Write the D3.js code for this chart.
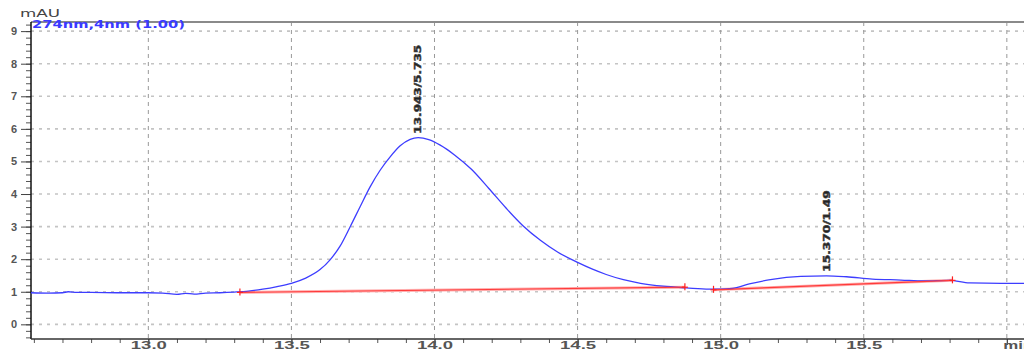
<!DOCTYPE html>
<html>
<head>
<meta charset="utf-8">
<script src="https://cdn.jsdelivr.net/npm/d3@7"></script>
<style>
  body { margin: 0; background: #fff; }
  svg { display: block; font-family: "DejaVu Sans", sans-serif; }
</style>
</head>
<body>
<div id="chrom"></div>
<script>
// retention time (min) and detector signal (mAU)
const times = [12.59, 12.65, 12.70, 12.72, 12.75, 12.80, 12.90, 13.00, 13.05, 13.10, 13.13, 13.16, 13.20, 13.25,
  13.30, 13.35, 13.40, 13.45, 13.50, 13.55, 13.60, 13.635, 13.67, 13.705, 13.74, 13.775, 13.81, 13.845, 13.88,
  13.915, 13.943, 13.98, 14.02, 14.07, 14.13, 14.19, 14.25, 14.31, 14.37, 14.43, 14.50, 14.55, 14.60,
  14.66, 14.72, 14.80, 14.88, 14.96, 15.00, 15.04, 15.10, 15.18, 15.28, 15.37, 15.44, 15.53, 15.63, 15.71,
  15.80, 15.87, 15.98, 16.06];
const absorbance = [0.97, 0.96, 0.97, 1.00, 0.98, 0.98, 0.97, 0.97, 0.96, 0.92, 0.95, 0.93, 0.96, 0.97,
  0.99, 1.02, 1.08, 1.16, 1.26, 1.42, 1.68, 1.98, 2.40, 2.99, 3.61, 4.22, 4.73, 5.14, 5.48,
  5.68, 5.73, 5.67, 5.50, 5.20, 4.75, 4.17, 3.57, 3.02, 2.58, 2.22, 1.90, 1.70, 1.53,
  1.37, 1.26, 1.17, 1.12, 1.08, 1.08, 1.10, 1.24, 1.38, 1.47, 1.49, 1.46, 1.39, 1.36, 1.33,
  1.35, 1.27, 1.26, 1.26];

// integration baselines: start/end time and level
const baseStart = [13.32, 14.975];
const baseStartLevel = [0.98, 1.06];
const baseEnd = [14.875, 15.81];
const baseEndLevel = [1.14, 1.35];

// peak annotations
const peakTimes = [13.943, 15.37];
const peakHeights = [5.73, 1.49];
const peakLabels = ["13.943/5.735", "15.370/1.49"];

const yTicks = [0, 1, 2, 3, 4, 5, 6, 7, 8, 9];
const xTicks = [13.0, 13.5, 14.0, 14.5, 15.0, 15.5, 16.0];
const xTickLabels = ["13.0", "13.5", "14.0", "14.5", "15.0", "15.5", "min"];

const width = 1024, height = 352;
const plotLeft = 31, plotTop = 22, plotBottom = 339;

const svg = d3.select('#chrom').append('svg')
  .attr('width', width)
  .attr('height', height);

const x = d3.scaleLinear().domain([12.59, 16.06]).range([plotLeft, width]);
const y = d3.scaleLinear().domain([-0.45, 9.28]).range([plotBottom, plotTop]);

// grid
svg.append('g')
  .selectAll('line')
  .data(yTicks)
  .enter()
  .append('line')
  .attr('x1', plotLeft).attr('x2', width)
  .attr('y1', d => y(d)).attr('y2', d => y(d))
  .style('stroke', '#c4c4c4')
  .style('stroke-width', 1.6)
  .style('stroke-dasharray', '3,5');

svg.append('g')
  .selectAll('line')
  .data(xTicks)
  .enter()
  .append('line')
  .attr('x1', d => x(d)).attr('x2', d => x(d))
  .attr('y1', plotTop).attr('y2', plotBottom)
  .style('stroke', '#999')
  .style('stroke-width', 1)
  .style('stroke-dasharray', '4,4');

// frame top
svg.append('line')
  .attr('x1', plotLeft).attr('x2', width)
  .attr('y1', plotTop).attr('y2', plotTop)
  .style('stroke', '#8a8a8a')
  .style('stroke-width', 2);

// y axis
svg.append('g')
  .attr('transform', 'translate(' + plotLeft + ',0)')
  .call(d3.axisLeft(y).tickValues(d3.range(-4, 93, 2).map(d => d / 10)).tickSize(5).tickFormat(''))
  .call(g => g.select('.domain').remove())
  .selectAll('line').style('stroke', '#555');

const yAxis = svg.append('g')
  .attr('transform', 'translate(' + plotLeft + ',0)')
  .call(d3.axisLeft(y).tickValues(yTicks).tickSize(10).tickPadding(4).tickFormat(d3.format('d')));
yAxis.select('.domain').remove();
yAxis.selectAll('line').style('stroke', '#444');
yAxis.selectAll('text')
  .style('font-size', '11px')
  .style('font-weight', 'bold')
  .style('fill', '#555');

svg.append('line')
  .attr('x1', plotLeft).attr('x2', plotLeft)
  .attr('y1', plotTop).attr('y2', plotBottom)
  .style('stroke', '#111')
  .style('stroke-width', 1.5);

// x axis
svg.append('g')
  .attr('transform', 'translate(0,' + plotBottom + ')')
  .call(d3.axisBottom(x).tickValues(d3.range(126, 161).map(d => d / 10)).tickSize(4).tickFormat(''))
  .call(g => g.select('.domain').remove())
  .selectAll('line').style('stroke', '#555');

const xAxis = svg.append('g')
  .attr('transform', 'translate(0,' + plotBottom + ')')
  .call(d3.axisBottom(x).tickValues(xTicks).tickSize(6).tickFormat((d, i) => xTickLabels[i]));
xAxis.select('.domain').remove();
xAxis.selectAll('line').style('stroke', '#444');
xAxis.selectAll('text')
  .attr('y', 2)
  .attr('textLength', (d, i) => i === xTicks.length - 1 ? 30 : 36)
  .attr('lengthAdjust', 'spacingAndGlyphs')
  .attr('text-anchor', (d, i) => i === xTicks.length - 1 ? 'start' : 'middle')
  .attr('x', (d, i) => i === xTicks.length - 1 ? -4 : 0)
  .style('font-size', '11px')
  .style('font-weight', 'bold')
  .style('fill', '#555');

svg.append('line')
  .attr('x1', plotLeft).attr('x2', width)
  .attr('y1', plotBottom).attr('y2', plotBottom)
  .style('stroke', '#333')
  .style('stroke-width', 1.5);

// titles
svg.append('text')
  .attr('x', 20).attr('y', 17)
  .attr('textLength', 40)
  .attr('lengthAdjust', 'spacingAndGlyphs')
  .style('font-size', '10px')
  .style('fill', '#444')
  .text('mAU');

svg.append('text')
  .attr('x', 32).attr('y', 28)
  .attr('textLength', 153)
  .attr('lengthAdjust', 'spacingAndGlyphs')
  .style('font-size', '10.5px')
  .style('font-weight', 'bold')
  .style('fill', '#3a3aff')
  .text('274nm,4nm (1.00)');

// baselines
const baselines = baseStart.map((t, i) => [[t, baseStartLevel[i]], [baseEnd[i], baseEndLevel[i]]]);
const line = d3.line().x(d => x(d[0])).y(d => y(d[1]));

svg.append('g')
  .selectAll('path')
  .data(baselines)
  .enter()
  .append('path')
  .attr('d', line)
  .style('fill', 'none')
  .style('stroke', '#ffb0b0')
  .style('stroke-width', 3);

// trace
const trace = times.map((t, i) => [t, absorbance[i]]);
svg.append('path')
  .datum(trace)
  .attr('d', d3.line().x(d => x(d[0])).y(d => y(d[1])).curve(d3.curveMonotoneX))
  .style('fill', 'none')
  .style('stroke', '#3d3dff')
  .style('stroke-width', 1.3);

svg.append('g')
  .selectAll('path')
  .data(baselines)
  .enter()
  .append('path')
  .attr('d', line)
  .style('fill', 'none')
  .style('stroke', '#ff3b3b')
  .style('stroke-width', 1.2);

// integration markers
const marks = baselines.flat();
const mk = svg.append('g')
  .selectAll('g')
  .data(marks)
  .enter()
  .append('g')
  .attr('transform', d => 'translate(' + x(d[0]) + ',' + y(d[1]) + ')')
  .style('stroke', '#ff2020')
  .style('stroke-width', 1.2);
mk.append('line').attr('x1', 0).attr('x2', 0).attr('y1', -4).attr('y2', 3);
mk.append('line').attr('x1', -3).attr('x2', 3).attr('y1', 0).attr('y2', 0);

// peak labels
svg.append('g')
  .selectAll('text')
  .data(peakTimes)
  .enter()
  .append('text')
  .attr('transform', (d, i) => 'translate(' + (x(d) + 3) + ',' + (y(peakHeights[i]) - 4) + ')rotate(-90)')
  .attr('textLength', (d, i) => peakLabels[i].length * 7.4)
  .attr('lengthAdjust', 'spacingAndGlyphs')
  .style('font-size', '8px')
  .style('font-weight', 'bold')
  .style('fill', '#222')
  .style('stroke', '#444')
  .style('stroke-width', 0.5)
  .text((d, i) => peakLabels[i]);
</script>
</body>
</html>
